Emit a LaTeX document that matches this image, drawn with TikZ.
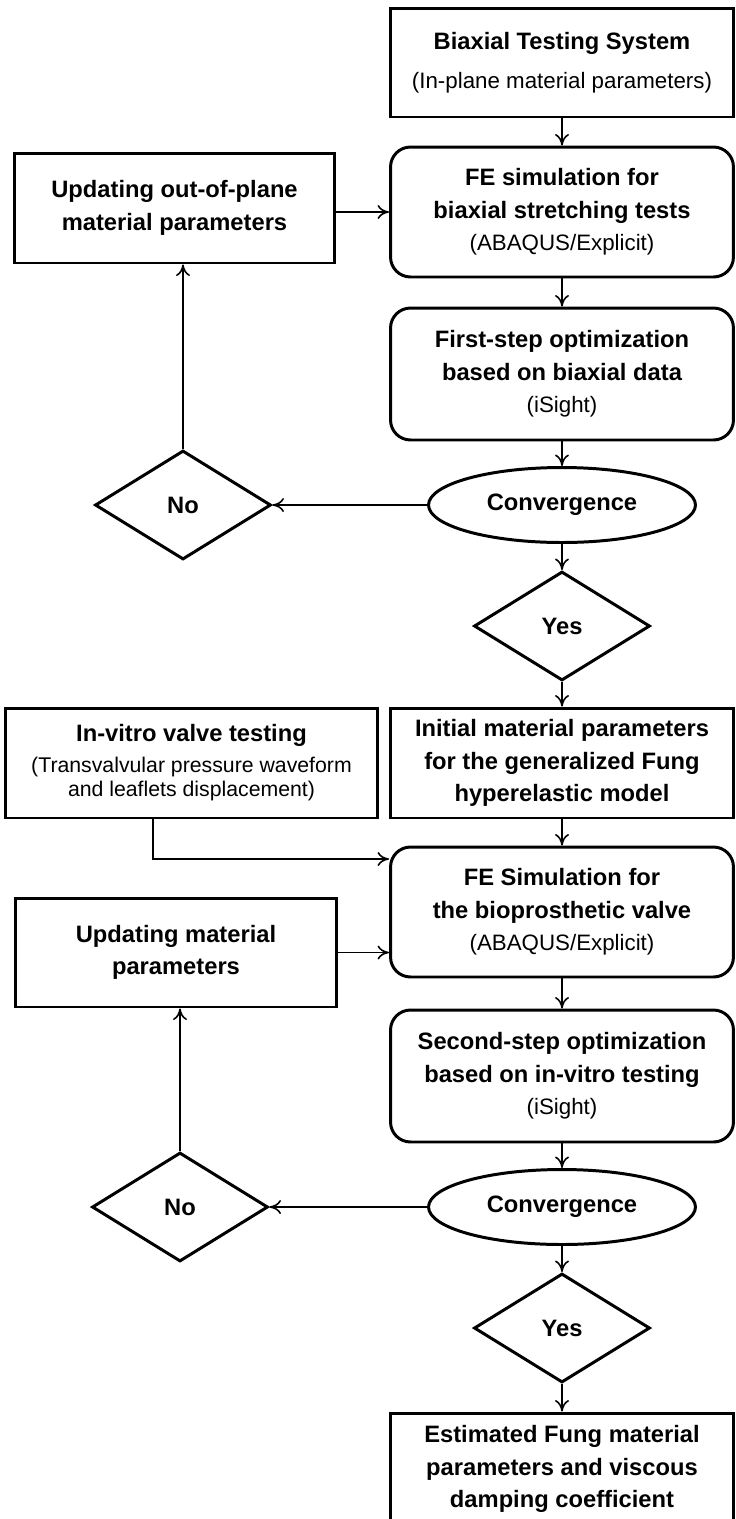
\documentclass[tikz,border=0pt]{standalone}
\usepackage{fontspec}
\setmainfont{Liberation Sans}
\usetikzlibrary{shapes.geometric,arrows.meta}
\tikzset{
  sqbox/.style={draw,line width=1.7pt,minimum width=6.86cm,align=center,inner sep=0pt,font=\fontsize{13.5}{18.5}\selectfont\bfseries},
  rndbox/.style={sqbox,rounded corners=0.4cm},
  convnode/.style={draw,ellipse,line width=1.7pt,minimum width=5.34cm,minimum height=1.5cm,inner sep=0pt,font=\fontsize{13.5}{18.5}\selectfont\bfseries},
  decnode/.style={draw,diamond,line width=1.7pt,minimum width=3.52cm,minimum height=2.18cm,inner sep=0pt,font=\fontsize{13.5}{18.5}\selectfont\bfseries},
  flow/.style={-{To[length=2.3mm,width=2.8mm]},line width=0.9pt}
}
\newcommand{\paren}[1]{{\mdseries\fontsize{12.7}{18.5}\selectfont #1}}
\newcommand{\smparen}[1]{{\mdseries\fontsize{12.1}{14.2}\selectfont #1}}
\newcommand{\flowlink}[2]{\draw[flow] (#1) -- (#2);}

\begin{document}
\begin{tikzpicture}[x=0.02cm,y=-0.02cm]
	\useasboundingbox (0,0) rectangle (735,1519);
	% first step: biaxial data
	\node[sqbox,minimum height=2.18cm] (sys) at (562,62.5) {Biaxial Testing System\\[3.5pt]\paren{(In-plane material parameters)}};
	\node[rndbox,minimum height=2.6cm] (febi) at (562,212) {FE simulation for\\biaxial stretching tests\\\paren{(ABAQUS/Explicit)}};
	\node[rndbox,minimum height=2.64cm] (opt1) at (562,374) {First-step optimization\\based on biaxial data\\\paren{(iSight)}};
	\node[convnode] (conv1) at (562,505) {Convergence};
	\node[decnode] (no1) at (183,505) {No};
	\node[decnode] (yes1) at (562,626) {Yes};
	\node[sqbox,minimum width=6.42cm,minimum height=2.2cm] (upd1) at (174.5,208) {Updating out-of-plane\\material parameters};
	% second step: in-vitro data
	\node[sqbox,minimum height=2.2cm] (init) at (562,763) {Initial material parameters\\for the generalized Fung\\hyperelastic model};
	\node[sqbox,minimum width=7.46cm,minimum height=2.2cm,font=\fontsize{13.5}{14.2}\selectfont\bfseries] (vitro) at (191.5,763) {In-vitro valve testing\\[3pt]\smparen{(Transvalvular pressure waveform}\\\smparen{and leaflets displacement)}};
	\node[rndbox,minimum height=2.6cm] (fevalve) at (562,912) {FE Simulation for\\the bioprosthetic valve\\\paren{(ABAQUS/Explicit)}};
	\node[sqbox,minimum width=6.44cm,minimum height=2.18cm] (upd2) at (176,952.5) {Updating material\\parameters};
	\node[rndbox,minimum height=2.64cm] (opt2) at (562,1076) {Second-step optimization\\based on in-vitro testing\\\paren{(iSight)}};
	\node[convnode] (conv2) at (562,1207) {Convergence};
	\node[decnode] (no2) at (180,1207) {No};
	\node[decnode] (yes2) at (562,1328) {Yes};
	\node[sqbox,minimum height=2.24cm] (est) at (562,1469) {Estimated Fung material\\parameters and viscous\\damping coefficient};
	% connectors
	\flowlink{sys}{febi} \flowlink{febi}{opt1} \flowlink{opt1}{conv1}
	\flowlink{conv1}{no1} \flowlink{no1.north}{no1.north |- upd1.south}
	\flowlink{upd1.east |- febi.west}{febi.west}
	\flowlink{conv1}{yes1} \flowlink{yes1}{init} \flowlink{init}{fevalve}
	\draw[flow] ([xshift=-0.77cm]vitro.south) |- ([yshift=1.06cm]fevalve.west);
	\flowlink{upd2.east}{upd2.east -| fevalve.west}
	\flowlink{fevalve}{opt2} \flowlink{opt2}{conv2}
	\flowlink{conv2}{no2} \flowlink{no2.north}{no2.north |- upd2.south}
	\flowlink{conv2}{yes2} \flowlink{yes2}{est}
\end{tikzpicture}
\end{document}
